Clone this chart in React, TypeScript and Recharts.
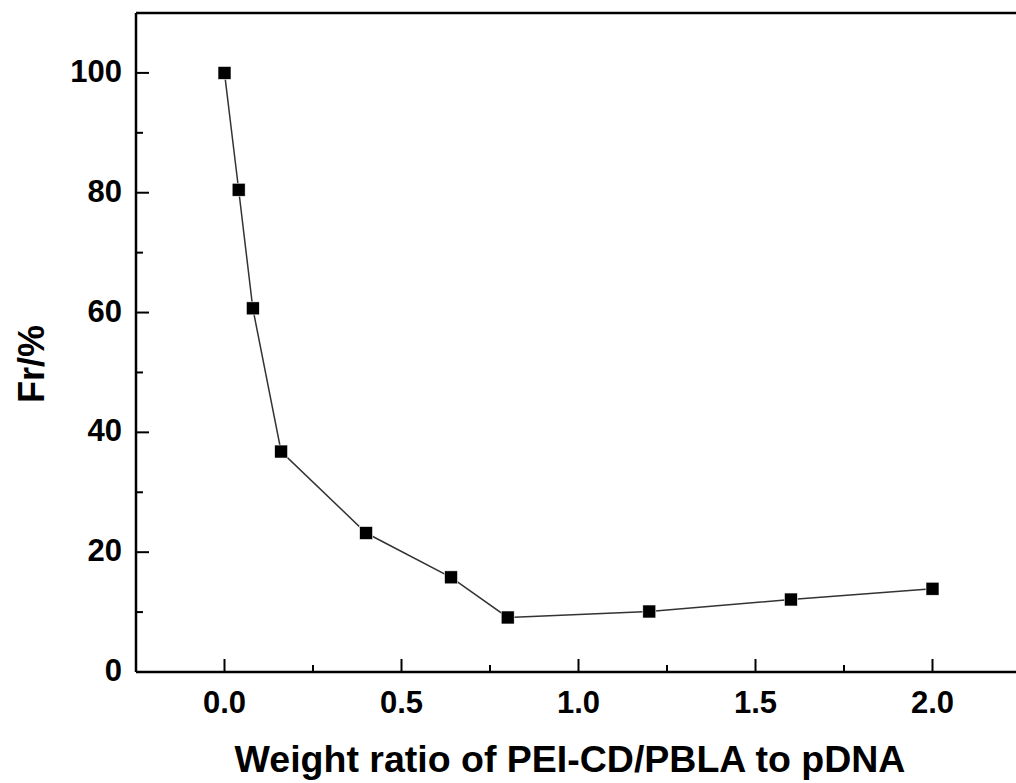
import { LineChart, Line, XAxis, YAxis, ReferenceLine } from "recharts";

// weight ratio (x) and Fr % (y)
const ratios = [0, 0.04, 0.08, 0.16, 0.4, 0.64, 0.8, 1.2, 1.6, 2.0];
const frValues = [100, 80.5, 60.7, 36.8, 23.2, 15.8, 9.1, 10.1, 12.1, 13.9];

const xTicks = [0, 0.25, 0.5, 0.75, 1.0, 1.25, 1.5, 1.75, 2.0];
const yTicks = [0, 10, 20, 30, 40, 50, 60, 70, 80, 90, 100];

const xTitle = "Weight ratio of PEI-CD/PBLA to pDNA";
const yTitle = "Fr/%";

const data = ratios.map((x, i) => ({ x, fr: frValues[i] }));

const FONT = "'Liberation Sans', Arial, Helvetica, sans-serif";

function XTick(props: any) {
  const { x, y, payload } = props;
  const v = payload.value as number;
  const major = Math.abs(v * 2 - Math.round(v * 2)) < 1e-6;
  return (
    <g>
      <line x1={x} x2={x} y1={y} y2={y - (major ? 13 : 7)} stroke="#000" strokeWidth={2} />
      {major && (
        <text x={x} y={y + 41} textAnchor="middle" fontFamily={FONT} fontWeight="bold" fontSize={31} fill="#000">
          {v.toFixed(1)}
        </text>
      )}
    </g>
  );
}

function YTick(props: any) {
  const { x, y, payload } = props;
  const v = payload.value as number;
  const major = v % 20 === 0;
  return (
    <g>
      <line x1={x} x2={x + (major ? 13 : 7)} y1={y} y2={y} stroke="#000" strokeWidth={2} />
      {major && (
        <text x={x - 14} y={y + 9} textAnchor="end" fontFamily={FONT} fontWeight="bold" fontSize={31} fill="#000">
          {v}
        </text>
      )}
    </g>
  );
}

function SquareDot(props: any) {
  const { cx, cy, index } = props;
  return <rect key={index} x={cx - 6.5} y={cy - 6.5} width={13} height={13} fill="#000" stroke="#fff" strokeWidth={0.6} />;
}

export default function App() {
  return (
    <div style={{ position: "absolute", left: 0, top: 0, width: 1016, height: 783, overflow: "hidden", background: "#fff" }}>
      <LineChart width={1021} height={783} data={data} margin={{ top: 13, right: 0, bottom: 0, left: 0 }}>
        <XAxis
          type="number"
          dataKey="x"
          domain={[-0.25, 2.25]}
          ticks={xTicks}
          interval={0}
          tickLine={false}
          tickSize={0}
          tickMargin={0}
          tick={<XTick />}
          height={111}
          axisLine={{ stroke: "#000", strokeWidth: 2.5 }}
          label={{
            content: (p: any) => {
              const vb = p.viewBox;
              return (
                <text x={570} y={vb.y + 100} textAnchor="middle" fontFamily={FONT} fontWeight="bold" fontSize={37.5} fill="#000">
                  {xTitle}
                </text>
              );
            },
          }}
        />
        <YAxis
          type="number"
          domain={[0, 110]}
          ticks={yTicks}
          interval={0}
          tickLine={false}
          tickSize={0}
          tickMargin={0}
          tick={<YTick />}
          width={136}
          axisLine={{ stroke: "#000", strokeWidth: 2.5 }}
          label={{
            content: () => (
              <text
                x={44}
                y={364}
                transform="rotate(-90 44 364)"
                textAnchor="middle"
                fontFamily={FONT}
                fontWeight="bold"
                fontSize={36}
                fill="#000"
              >
                {yTitle}
              </text>
            ),
          }}
        />
        <ReferenceLine y={110} stroke="#000" strokeWidth={2.5} />
        <Line
          type="linear"
          dataKey="fr"
          stroke="#333"
          strokeWidth={1.5}
          dot={<SquareDot />}
          activeDot={false}
          isAnimationActive={false}
        />
      </LineChart>
    </div>
  );
}
